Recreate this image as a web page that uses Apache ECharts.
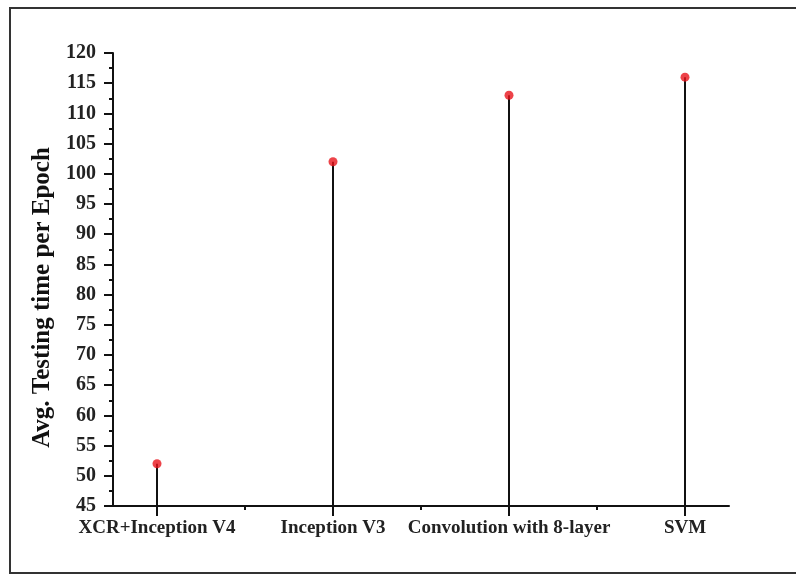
<!DOCTYPE html>
<html>
<head>
<meta charset="utf-8">
<script src="https://cdn.jsdelivr.net/npm/echarts@6/dist/echarts.min.js"></script>
<style>html,body{margin:0;padding:0;background:#fff}#c{width:796px;height:575px}</style>
</head>
<body>
<div id="c"></div>
<script>
const categories = ["XCR+Inception V4", "Inception V3", "Convolution with 8-layer", "SVM"];
const positions = [1, 2, 3, 4];
const values = [52, 102, 113, 116];
const yTicks = [45, 50, 55, 60, 65, 70, 75, 80, 85, 90, 95, 100, 105, 110, 115, 120];
const midTicks = [1.5, 2.5, 3.5];

const pts = positions.map((p, i) => [p, values[i]]);
const chart = echarts.init(document.getElementById('c'));
const serif = '"Liberation Serif", "Times New Roman", serif';
chart.setOption({
  animation: false,
  graphic: [{
    type: 'rect', shape: { x: 10, y: 8, width: 820, height: 565 },
    style: { fill: 'none', stroke: '#333', lineWidth: 2 }, silent: true
  }],
  grid: { left: 113, right: 67, top: 53, bottom: 69 },
  xAxis: [{
    type: 'value', min: 0.75, max: 4.25,
    splitLine: { show: false },
    axisLine: { lineStyle: { color: '#111', width: 2 } },
    axisTick: { show: true, customValues: positions, length: 10, lineStyle: { color: '#111', width: 2 } },
    axisLabel: {
      customValues: positions, margin: 13,
      formatter: v => categories[positions.indexOf(v)] || '',
      fontFamily: serif, fontWeight: 'bold', fontSize: 19, color: '#222'
    }
  }, {
    type: 'value', min: 0.75, max: 4.25, position: 'bottom', offset: 0,
    splitLine: { show: false },
    axisLine: { show: false },
    axisTick: { show: true, customValues: midTicks, length: 4, lineStyle: { color: '#111', width: 2 } },
    axisLabel: { show: false }
  }],
  yAxis: {
    type: 'value', min: 45, max: 120, interval: 5,
    name: 'Avg. Testing time per Epoch', nameLocation: 'middle', nameGap: 57,
    nameTextStyle: { fontFamily: serif, fontWeight: 'bold', fontSize: 25, color: '#111', padding: [0, 36, 0, 0] },
    splitLine: { show: false },
    axisLine: { show: true, lineStyle: { color: '#111', width: 2 } },
    axisTick: { show: true, length: 9, lineStyle: { color: '#111', width: 2 } },
    minorTick: { show: true, splitNumber: 2, length: 4, lineStyle: { color: '#111', width: 2 } },
    axisLabel: {
      margin: 17, fontFamily: serif, fontWeight: 'bold', fontSize: 20, color: '#222',
      formatter: v => yTicks.includes(v) ? String(v) : ''
    }
  },
  series: [{
    type: 'bar', data: pts, barWidth: 2,
    itemStyle: { color: '#111' }, silent: true
  }, {
    type: 'scatter', data: pts, symbol: 'circle', symbolSize: 9,
    itemStyle: { color: '#e8141c' }, z: 5
  }]
});
</script>
</body>
</html>
